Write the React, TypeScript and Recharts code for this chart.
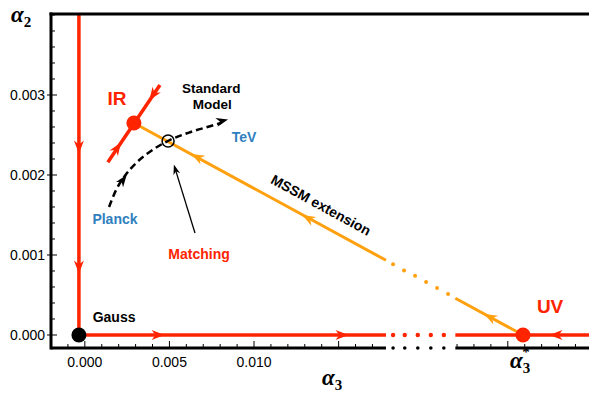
import React from "react";
import { ComposedChart, Line, Scatter, XAxis, YAxis, ReferenceLine } from "recharts";

// axes
const X_MIN = -0.002;
const X_MAX = 0.0298;
const Y_MIN = -0.0001625;
const Y_MAX = 0.0040125;
const BREAK_FROM = 0.0178;
const BREAK_TO = 0.0219;
const X_LABELS = [0, 0.005, 0.01];
const X_LABEL_TEXT = ["0.000", "0.005", "0.010"];
const Y_LABELS = [0, 0.001, 0.002, 0.003];
const Y_LABEL_TEXT = ["0.000", "0.001", "0.002", "0.003"];
const UV_AT = 0.0259;

// flows
const GAUSS_DOWN = [{ x: -0.00035, y: 0.004 }, { x: -0.00035, y: 0 }];
const GAUSS_RIGHT = [{ x: -0.00035, y: 0 }, { x: 0.0178, y: 0 }];
const UV_LEFT = [{ x: 0.0219, y: 0 }, { x: 0.0298, y: 0 }];
const IR_LINE = [{ x: 0.00136, y: 0.00216 }, { x: 0.00444, y: 0.003125 }];
const MSSM_NEAR = [{ x: 0.0029, y: 0.00265 }, { x: 0.0178, y: 0.000934 }];
const MSSM_FAR = [{ x: 0.0219, y: 0.00046 }, { x: 0.0259, y: 0 }];
const SM_RUN = [
  { x: 0.00143, y: 0.0016 },
  { x: 0.00184, y: 0.00181 },
  { x: 0.00237, y: 0.00199 },
  { x: 0.00308, y: 0.00216 },
  { x: 0.00391, y: 0.0023 },
  { x: 0.00491, y: 0.002425 },
  { x: 0.00622, y: 0.002535 },
  { x: 0.0074, y: 0.00261 },
  { x: 0.0081, y: 0.002655 },
];
const MATCHING_POINTER = [{ x: 0.00651, y: 0.001275 }, { x: 0.00535, y: 0.00207 }];

// dotted gaps
const RED_DOTS = [0.01822, 0.01891, 0.01968, 0.02045, 0.02122].map((x) => ({ x, y: 0 }));
const AXIS_DOTS = [0.01822, 0.01891, 0.01968, 0.02045, 0.02122].map((x) => ({ x, y: Y_MIN }));
const ORANGE_DOTS = [
  { x: 0.01822, y: 0.000885 },
  { x: 0.01887, y: 0.000805 },
  { x: 0.01952, y: 0.00074 },
  { x: 0.02017, y: 0.000662 },
  { x: 0.02082, y: 0.000588 },
  { x: 0.02147, y: 0.000512 },
];

const FIXED_POINTS = [
  { x: -0.00035, y: 0, name: "Gauss" },
  { x: 0.0029, y: 0.00265, name: "IR" },
  { x: 0.0259, y: 0, name: "UV" },
];
const CROSSING = [{ x: 0.00492, y: 0.002425 }];

// arrowheads: position + direction (data units)
const RED_ARROWS = [
  { x: -0.00035, y: 0.00235, dx: 0, dy: -1 },
  { x: -0.00035, y: 0.00085, dx: 0, dy: -1 },
  { x: 0.00433, y: 0, dx: 1, dy: 0 },
  { x: 0.0152, y: 0, dx: 1, dy: 0 },
  { x: 0.02785, y: 0, dx: -1, dy: 0 },
  { x: 0.00192, y: 0.00234, dx: 0.00154, dy: 0.00049 },
  { x: 0.00403, y: 0.003, dx: -0.00154, dy: -0.000475 },
];
const ORANGE_ARROWS = [
  { x: 0.00664, y: 0.002225, dx: -0.023, dy: 0.00265 },
  { x: 0.01319, y: 0.00146, dx: -0.023, dy: 0.00265 },
  { x: 0.02395, y: 0.000225, dx: -0.023, dy: 0.00265 },
];
const BLACK_ARROWS = [
  { x: 0.00226, y: 0.00194, dx: 0.00124, dy: 0.00035 },
  { x: 0.00812, y: 0.002675, dx: 0.00118, dy: 0.0000625 },
];
const POINTER_TIP = [{ x: 0.00535, y: 0.00207, dx: -0.00124, dy: 0.00085 }];

const NOTES = [
  { x: 0.0019, y: 0.002875, text: "IR", tone: "big" },
  { x: 0.0275, y: 0.000275, text: "UV", tone: "big" },
  { x: 0.00747, y: 0.0030188, text: "Standard", tone: "small" },
  { x: 0.00753, y: 0.002825, text: "Model", tone: "small" },
  { x: 0.00941, y: 0.0024125, text: "TeV", tone: "blue" },
  { x: 0.00178, y: 0.0013875, text: "Planck", tone: "blue" },
  { x: 0.00675, y: 0.00095, text: "Matching", tone: "red" },
  { x: 0.00173, y: 0.0001625, text: "Gauss", tone: "plain" },
  { x: 0.01396, y: 0.001625, text: "MSSM extension", tone: "tilt" },
];

const W = 589;
const H = 394;
const LEFT = 51;
const TOP = 14;
const BOTTOM = 46;
const KX = (W - LEFT) / (X_MAX - X_MIN);
const KY = (H - TOP - BOTTOM) / (Y_MAX - Y_MIN);

const RED = "#ff2400";
const ORANGE = "#ffa00f";
const BLUE = "#2f7fc0";
const SANS = "Liberation Sans, Arial, Helvetica, sans-serif";
const SERIF = "Liberation Serif, Times New Roman, serif";

const steps = (from: number, to: number, step: number) => {
  const out: number[] = [];
  for (let i = 0; from + i * step <= to + 1e-12; i++) out.push(+(from + i * step).toFixed(6));
  return out;
};
const X_TICKS = steps(-0.002, 0.029, 0.001);
const Y_TICKS = steps(0, 0.004, 0.0002);
const BOTTOM_TICKS = [...X_TICKS.filter((v) => v < BREAK_FROM || v > BREAK_TO), UV_AT].sort((a, b) => a - b);

const near = (a: number, b: number) => Math.abs(a - b) < 1e-7;
const isMajor = (v: number, every: number) => Math.abs(v / every - Math.round(v / every)) < 1e-4;

const pixelAngle = (dx: number, dy: number) => (Math.atan2(-dy * KY, dx * KX) * 180) / Math.PI;

function TopTick({ x, y, payload }: any) {
  const len = isMajor(payload.value, 0.005) ? 6 : 3;
  return <line x1={x} x2={x} y1={y} y2={y + len} stroke="#000" strokeWidth={1} />;
}

function BottomTick({ x, y, payload }: any) {
  const v = payload.value;
  if (near(v, UV_AT)) {
    return (
      <text x={x - 13} y={y + 20} fontFamily={SERIF} fill="#000">
        <tspan fontSize={23} fontStyle="italic" fontWeight="bold">α</tspan>
        <tspan fontSize={15} fontWeight="bold" dy={5}>3</tspan>
        <tspan fontSize={15} fontWeight="bold" dx={-8} dy={-16}>*</tspan>
      </text>
    );
  }
  const major = isMajor(v, 0.005);
  const idx = X_LABELS.findIndex((m) => near(m, v));
  return (
    <g>
      <line x1={x} x2={x} y1={y} y2={y - (major ? 7 : 4)} stroke="#000" strokeWidth={1} />
      {idx >= 0 && (
        <text x={x} y={y + 19} textAnchor="middle" fontFamily={SANS} fontSize={14} fill="#000">
          {X_LABEL_TEXT[idx]}
        </text>
      )}
    </g>
  );
}

function LeftTick({ x, y, payload }: any) {
  const v = payload.value;
  const idx = Y_LABELS.findIndex((m) => near(m, v));
  const major = idx >= 0;
  return (
    <g>
      <line x1={major ? x - 4 : x} x2={x + (major ? 6 : 4)} y1={y} y2={y} stroke="#000" strokeWidth={1} />
      {major && (
        <text x={x - 6} y={y + 5} textAnchor="end" fontFamily={SANS} fontSize={14} fill="#000">
          {Y_LABEL_TEXT[idx]}
        </text>
      )}
    </g>
  );
}

function RightTick({ x, y, payload }: any) {
  const len = isMajor(payload.value, 0.001) ? 4 : 2;
  return <line x1={x} x2={x - len} y1={y} y2={y} stroke="#000" strokeWidth={1} />;
}

function arrowShape(color: string, len: number, wid: number) {
  return (props: any) => {
    const { cx, cy, payload } = props;
    const ang = pixelAngle(payload.dx, payload.dy);
    const d = `M${len / 2},0 L${-len / 2},${-wid / 2} L${-len / 5},0 L${-len / 2},${wid / 2} Z`;
    return <path d={d} transform={`translate(${cx},${cy}) rotate(${ang})`} fill={color} />;
  };
}

function FixedPoint(props: any) {
  const { cx, cy, payload } = props;
  const color = payload.name === "Gauss" ? "#000" : RED;
  return <circle cx={cx} cy={cy} r={7.5} fill={color} />;
}

function Note(props: any) {
  const { cx, cy, payload } = props;
  const tone = payload.tone;
  const fill = tone === "big" || tone === "red" ? RED : tone === "blue" ? BLUE : "#000";
  const size = tone === "big" ? 19 : tone === "small" ? 13.5 : 14;
  if (tone === "tilt") {
    const ang = pixelAngle(MSSM_FAR[1].x - MSSM_NEAR[0].x, MSSM_FAR[1].y - MSSM_NEAR[0].y);
    return (
      <text x={cx} y={cy} textAnchor="middle" dominantBaseline="central" fontFamily={SANS} fontWeight="bold"
        fontSize={size} fill={fill} transform={`rotate(${ang},${cx},${cy})`}>
        {payload.text}
      </text>
    );
  }
  return (
    <text x={cx} y={cy} textAnchor="middle" fontFamily={SANS} fontWeight="bold" fontSize={size} fill={fill}>
      {payload.text}
    </text>
  );
}

const dot = (color: string, r: number) => (props: any) => <circle cx={props.cx} cy={props.cy} r={r} fill={color} />;

const ax = { xAxisId: "b", yAxisId: "l" };

export default function App() {
  return (
    <div style={{ position: "absolute", left: 0, top: 0, width: W, height: H, background: "#fff" }}>
      <ComposedChart width={W} height={H} margin={{ top: 0, right: 0, bottom: 0, left: 0 }}>
        <XAxis xAxisId="t" orientation="top" type="number" dataKey="x" domain={[X_MIN, X_MAX]} height={TOP}
          ticks={X_TICKS} interval={0} tickSize={0} tickMargin={0} tickLine={false} tick={<TopTick />}
          axisLine={{ stroke: "#000", strokeWidth: 3, strokeLinecap: "square" }} />
        <XAxis xAxisId="b" orientation="bottom" type="number" dataKey="x" domain={[X_MIN, X_MAX]} height={BOTTOM}
          ticks={BOTTOM_TICKS} interval={0} tickSize={0} tickMargin={0} tickLine={false} tick={<BottomTick />}
          axisLine={false}
          label={{
            content: () => (
              <text x={322} y={385} fontFamily={SERIF} fill="#000">
                <tspan fontSize={23} fontStyle="italic" fontWeight="bold">α</tspan>
                <tspan fontSize={15} fontWeight="bold" dy={5}>3</tspan>
              </text>
            ),
          }} />
        <YAxis yAxisId="l" orientation="left" type="number" dataKey="y" domain={[Y_MIN, Y_MAX]} width={LEFT}
          ticks={Y_TICKS} interval={0} tickSize={0} tickMargin={0} tickLine={false} tick={<LeftTick />}
          axisLine={{ stroke: "#000", strokeWidth: 3, strokeLinecap: "square" }}
          label={{
            content: () => (
              <text x={11} y={22} fontFamily={SERIF} fill="#000">
                <tspan fontSize={23} fontStyle="italic" fontWeight="bold">α</tspan>
                <tspan fontSize={15} fontWeight="bold" dy={5}>2</tspan>
              </text>
            ),
          }} />
        <YAxis yAxisId="r" orientation="right" type="number" dataKey="y" domain={[Y_MIN, Y_MAX]} width={0}
          ticks={Y_TICKS} interval={0} tickSize={0} tickMargin={0} tickLine={false} tick={<RightTick />}
          axisLine={false} />

        <ReferenceLine {...ax} segment={[{ x: X_MIN, y: Y_MIN }, { x: BREAK_FROM, y: Y_MIN }]} stroke="#000" strokeWidth={3} />
        <ReferenceLine {...ax} segment={[{ x: BREAK_TO, y: Y_MIN }, { x: X_MAX, y: Y_MIN }]} stroke="#000" strokeWidth={3} />

        <Line {...ax} data={GAUSS_DOWN} dataKey="y" stroke={RED} strokeWidth={3.5} dot={false} isAnimationActive={false} />
        <Line {...ax} data={GAUSS_RIGHT} dataKey="y" stroke={RED} strokeWidth={3.5} dot={false} isAnimationActive={false} />
        <Line {...ax} data={UV_LEFT} dataKey="y" stroke={RED} strokeWidth={3.5} dot={false} isAnimationActive={false} />
        <Line {...ax} data={IR_LINE} dataKey="y" stroke={RED} strokeWidth={3.5} dot={false} isAnimationActive={false} />
        <Line {...ax} data={MSSM_NEAR} dataKey="y" stroke={ORANGE} strokeWidth={3} dot={false} isAnimationActive={false} />
        <Line {...ax} data={MSSM_FAR} dataKey="y" stroke={ORANGE} strokeWidth={3} dot={false} isAnimationActive={false} />
        <Line {...ax} data={SM_RUN} dataKey="y" type="monotone" stroke="#000" strokeWidth={2.5}
          strokeDasharray="7 4" dot={false} isAnimationActive={false} />
        <Line {...ax} data={MATCHING_POINTER} dataKey="y" stroke="#000" strokeWidth={1.3} dot={false} isAnimationActive={false} />

        <Scatter {...ax} data={RED_DOTS} shape={dot(RED, 2.2)} isAnimationActive={false} />
        <Scatter {...ax} data={AXIS_DOTS} shape={dot("#000", 1.8)} isAnimationActive={false} />
        <Scatter {...ax} data={ORANGE_DOTS} shape={dot(ORANGE, 2)} isAnimationActive={false} />

        <Scatter {...ax} data={RED_ARROWS} shape={arrowShape(RED, 13, 10)} isAnimationActive={false} />
        <Scatter {...ax} data={ORANGE_ARROWS} shape={arrowShape(ORANGE, 13, 10)} isAnimationActive={false} />
        <Scatter {...ax} data={BLACK_ARROWS} shape={arrowShape("#000", 12, 9)} isAnimationActive={false} />
        <Scatter {...ax} data={POINTER_TIP} shape={arrowShape("#000", 10, 7)} isAnimationActive={false} />

        <Scatter {...ax} data={CROSSING}
          shape={(p: any) => <circle cx={p.cx} cy={p.cy} r={6} fill="none" stroke="#000" strokeWidth={1.5} />}
          isAnimationActive={false} />
        <Scatter {...ax} data={FIXED_POINTS} shape={FixedPoint} isAnimationActive={false} />
        <Scatter {...ax} data={NOTES} shape={Note} isAnimationActive={false} />
      </ComposedChart>
    </div>
  );
}
